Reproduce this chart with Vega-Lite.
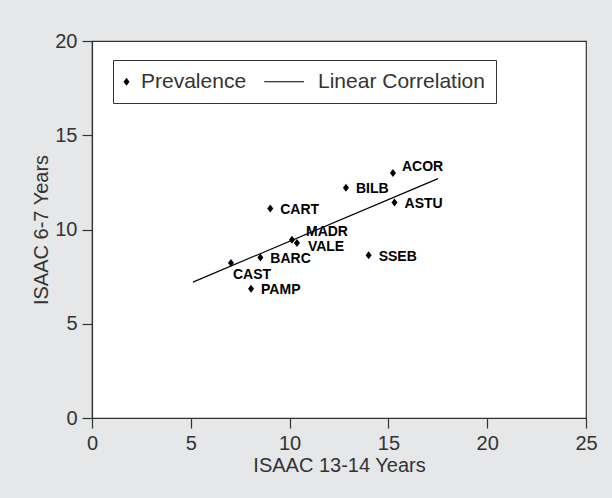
{
  "$schema": "https://vega.github.io/schema/vega-lite/v6.json",
  "width": 494,
  "height": 377,
  "autosize": {"type": "none"},
  "padding": {"left": 92, "top": 41, "right": 26, "bottom": 80},
  "background": "#e6e7e8",
  "config": {
    "view": {"fill": "white", "stroke": "#333333", "strokeWidth": 1.2},
    "font": "Liberation Sans",
    "axis": {
      "domainColor": "#333333",
      "domainWidth": 1.2,
      "tickColor": "#333333",
      "tickWidth": 1.2,
      "tickSize": 10,
      "grid": false,
      "labelFont": "Liberation Sans",
      "labelFontSize": 20,
      "labelColor": "#333333",
      "labelPadding": 5,
      "labelFlush": false,
      "labelOverlap": false,
      "titleFont": "Liberation Sans",
      "titleFontSize": 20,
      "titleFontWeight": "normal",
      "titleColor": "#333333"
    },
    "axisX": {"titlePadding": 2},
    "axisY": {"titlePadding": 3}
  },
  "datasets": {
    "points": [
      {"site": "ACOR", "isaac_13_14": 15.23, "isaac_6_7": 13.0},
      {"site": "BILB", "isaac_13_14": 12.85, "isaac_6_7": 12.22},
      {"site": "ASTU", "isaac_13_14": 15.31, "isaac_6_7": 11.43},
      {"site": "CART", "isaac_13_14": 9.02, "isaac_6_7": 11.11},
      {"site": "MADR", "isaac_13_14": 10.12, "isaac_6_7": 9.46},
      {"site": "VALE", "isaac_13_14": 10.37, "isaac_6_7": 9.28},
      {"site": "BARC", "isaac_13_14": 8.52, "isaac_6_7": 8.51},
      {"site": "SSEB", "isaac_13_14": 14.0, "isaac_6_7": 8.63},
      {"site": "CAST", "isaac_13_14": 7.03, "isaac_6_7": 8.22},
      {"site": "PAMP", "isaac_13_14": 8.05, "isaac_6_7": 6.86}
    ],
    "fit": [
      {"isaac_13_14": 5.11, "isaac_6_7": 7.21},
      {"isaac_13_14": 17.51, "isaac_6_7": 12.7}
    ]
  },
  "encoding": {
    "x": {
      "field": "isaac_13_14",
      "type": "quantitative",
      "scale": {"domain": [0, 25], "nice": false},
      "axis": {"values": [0, 5, 10, 15, 20, 25], "title": "ISAAC 13-14 Years"}
    },
    "y": {
      "field": "isaac_6_7",
      "type": "quantitative",
      "scale": {"domain": [0, 20], "nice": false},
      "axis": {"values": [0, 5, 10, 15, 20], "title": "ISAAC 6-7 Years"}
    }
  },
  "layer": [
    {
      "data": {"name": "fit"},
      "mark": {"type": "line", "color": "black", "strokeWidth": 1.2}
    },
    {
      "data": {"name": "points"},
      "mark": {"type": "point", "filled": true, "color": "black", "size": 64, "opacity": 1},
      "encoding": {
        "shape": {
          "datum": "Prevalence",
          "scale": {
            "domain": ["Prevalence", "Linear Correlation"],
            "range": ["M0,-1L0.75,0L0,1L-0.75,0Z", "M-9.8,-0.15L0.15,-0.15L0.15,0.15L-9.8,0.15Z"]
          },
          "legend": {
            "title": null,
            "orient": "none",
            "legendX": 21,
            "legendY": 19,
            "direction": "horizontal",
            "padding": 11,
            "strokeColor": "#333333",
            "fillColor": "white",
            "labelFont": "Liberation Sans",
            "labelFontSize": 21,
            "labelColor": "#333333",
            "labelLimit": 0,
            "labelOffset": 4,
            "symbolOffset": -8,
            "columnPadding": 17,
            "symbolSize": 64,
            "symbolStrokeWidth": 0,
            "symbolFillColor": "black",
            "symbolOpacity": 1,
            "encode": {
              "symbols": {
                "update": {
                  "fill": {"value": "black"},
                  "opacity": {"value": 1}
                }
              }
            }
          }
        }
      }
    },
    {
      "data": {"name": "points"},
      "transform": [{"filter": {"field": "site", "oneOf": ["BILB", "ASTU", "CART", "BARC", "SSEB", "PAMP"]}}],
      "mark": {"type": "text", "align": "left", "baseline": "middle", "fontWeight": "bold", "fontSize": 14, "font": "Liberation Sans", "color": "black", "dx": 10, "dy": 1.5},
      "encoding": {"text": {"field": "site"}}
    },
    {
      "data": {"name": "points"},
      "transform": [{"filter": {"field": "site", "equal": "VALE"}}],
      "mark": {"type": "text", "align": "left", "baseline": "middle", "fontWeight": "bold", "fontSize": 14, "font": "Liberation Sans", "color": "black", "dx": 11, "dy": 3.5},
      "encoding": {"text": {"field": "site"}}
    },
    {
      "data": {"name": "points"},
      "transform": [{"filter": {"field": "site", "equal": "ACOR"}}],
      "mark": {"type": "text", "align": "left", "baseline": "middle", "fontWeight": "bold", "fontSize": 14, "font": "Liberation Sans", "color": "black", "dx": 9, "dy": -6},
      "encoding": {"text": {"field": "site"}}
    },
    {
      "data": {"name": "points"},
      "transform": [{"filter": {"field": "site", "equal": "MADR"}}],
      "mark": {"type": "text", "align": "left", "baseline": "middle", "fontWeight": "bold", "fontSize": 14, "font": "Liberation Sans", "color": "black", "dx": 14, "dy": -8},
      "encoding": {"text": {"field": "site"}}
    },
    {
      "data": {"name": "points"},
      "transform": [{"filter": {"field": "site", "equal": "CAST"}}],
      "mark": {"type": "text", "align": "left", "baseline": "middle", "fontWeight": "bold", "fontSize": 14, "font": "Liberation Sans", "color": "black", "dx": 2, "dy": 11.5},
      "encoding": {"text": {"field": "site"}}
    }
  ]
}
